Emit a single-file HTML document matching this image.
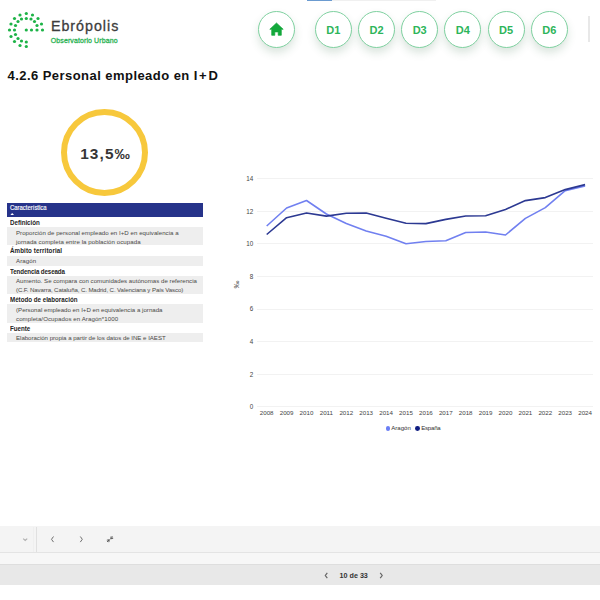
<!DOCTYPE html>
<html><head><meta charset="utf-8">
<style>
*{margin:0;padding:0;box-sizing:border-box}
html,body{width:600px;height:600px;overflow:hidden;background:#fff;font-family:"Liberation Sans",sans-serif;color:#252423}
.abs{position:absolute}
.nav{position:absolute;top:10.5px;width:37px;height:37px;border-radius:50%;border:1.8px solid #7fd1a0;background:#fff;box-shadow:0 5px 8px rgba(40,100,60,0.17);color:#2db55a;font-weight:700;font-size:11px;text-align:center;line-height:36px;letter-spacing:0px}
.t{position:absolute;white-space:nowrap}
.b{font-weight:700;font-size:7px;line-height:9px;transform:scaleX(0.885);transform-origin:0 0;color:#252423;left:10px}
.g{position:absolute;left:7px;width:195.5px;background:#eeeeee}
.gt{position:absolute;left:16px;font-size:6.1px;color:#4a4846;white-space:nowrap;line-height:9px}
.yl{position:absolute;font-size:6.3px;color:#444;text-align:right;width:12px;left:241.3px;margin-top:0.6px}
.xl{position:absolute;font-size:6.2px;color:#444;top:409.2px;width:20px;text-align:center}
.grid{position:absolute;left:256.6px;width:336.4px;height:1px;background:#f2f2f2}
</style></head>
<body>
<!-- logo -->
<svg class="abs" style="left:0;top:0" width="50" height="55" viewBox="0 0 50 55">
<g fill="#1db347">
<circle cx="26.3" cy="13.5" r="1.6"/>
<circle cx="20" cy="15" r="1.6"/><circle cx="32.5" cy="15" r="1.6"/>
<circle cx="14.5" cy="18.5" r="1.6"/><circle cx="38" cy="18.5" r="1.6"/>
<circle cx="11" cy="24" r="1.6"/><circle cx="41.5" cy="24" r="1.6"/>
<circle cx="9.5" cy="30" r="1.6"/>
<circle cx="11" cy="36.5" r="1.6"/>
<circle cx="14.5" cy="41.5" r="1.6"/>
<circle cx="20" cy="45.5" r="1.6"/>
<circle cx="26.3" cy="46.5" r="1.6"/>
<circle cx="26.3" cy="18.5" r="1.6"/>
<circle cx="21.5" cy="19" r="1.6"/><circle cx="31" cy="19" r="1.6"/>
<circle cx="18" cy="21.5" r="1.6"/><circle cx="34.5" cy="21.5" r="1.6"/>
<circle cx="15.5" cy="25.5" r="1.6"/><circle cx="37" cy="25.5" r="1.6"/>
<circle cx="14.5" cy="30" r="1.6"/>
<circle cx="15.5" cy="34.5" r="1.6"/>
<circle cx="18" cy="38.5" r="1.6"/>
<circle cx="21.5" cy="41" r="1.6"/>
<circle cx="26.3" cy="42" r="1.6"/>
<circle cx="26.3" cy="30" r="1.6"/><circle cx="31.5" cy="30" r="1.6"/><circle cx="37" cy="30" r="1.6"/><circle cx="42.5" cy="30" r="1.6"/>
</g></svg>
<div class="t" style="left:50.9px;top:17.8px;font-size:14.3px;color:#3d3d3d;letter-spacing:0.98px;-webkit-text-stroke:0.3px #3d3d3d">Ebrópolis</div>
<div class="t" style="left:50.8px;top:36.9px;font-size:7px;color:#2eb456;letter-spacing:0.1px;-webkit-text-stroke:0.3px #2eb456">Observatorio Urbano</div>

<!-- top strip -->
<div class="abs" style="left:306.5px;top:0;width:25.5px;height:1px;background:#6b9bd0"></div>
<div class="abs" style="left:332px;top:0;width:104px;height:1px;background:#f0f0f0"></div>

<!-- nav buttons -->
<div class="nav" style="left:258px">
<svg width="15" height="14" viewBox="0 0 15 14" style="position:absolute;left:10.2px;top:10.3px"><path d="M7.5 1.0 L14.2 7.3 L12.3 7.3 L12.3 13.3 L9.2 13.3 L9.2 9.9 L5.8 9.9 L5.8 13.3 L2.7 13.3 L2.7 7.3 L0.8 7.3 Z" fill="#13a83b" stroke="#13a83b" stroke-width="0.7" stroke-linejoin="round"/></svg>
</div>
<div class="nav" style="left:314.8px">D1</div>
<div class="nav" style="left:358px">D2</div>
<div class="nav" style="left:401.2px">D3</div>
<div class="nav" style="left:444.4px">D4</div>
<div class="nav" style="left:487.6px">D5</div>
<div class="nav" style="left:530.8px">D6</div>
<div class="abs" style="left:588px;top:16px;width:1.7px;height:26px;background:#e8e8e8"></div>

<!-- title -->
<div class="t" style="left:7.5px;top:67.9px;font-size:13px;font-weight:700;color:#111;letter-spacing:0.45px">4.2.6 Personal empleado en <span style="letter-spacing:1.7px">I+</span>D</div>

<!-- KPI -->
<div class="abs" style="left:61px;top:108.5px;width:87px;height:87px;border-radius:50%;border:6px solid #f7c83c"></div>
<div class="t" style="left:80.2px;top:144.9px;font-size:15.4px;font-weight:700;color:#363636;letter-spacing:1.1px">13,5‰</div>

<!-- table -->
<div class="abs" style="left:7px;top:203px;width:195.5px;height:14px;background:#26338a"></div>
<div class="t" style="left:10px;top:204.3px;font-size:6.6px;color:#fff;transform:scaleX(0.9);transform-origin:0 0;-webkit-text-stroke:0.15px #fff">Característica</div>
<svg class="abs" style="left:10.3px;top:212.6px" width="4.4" height="2.4"><path d="M0 2.4 L2.2 0 L4.4 2.4 Z" fill="#fff"/></svg>

<div class="t b" style="top:217.5px;letter-spacing:-0.02px">Definición</div>
<div class="g" style="top:227px;height:18.3px"></div>
<div class="gt" style="top:228.1px;letter-spacing:0.04px">Proporción de personal empleado en I+D en equivalencia a</div>
<div class="gt" style="top:236.7px;letter-spacing:0.07px">jornada completa entre la población ocupada</div>
<div class="t b" style="top:246.2px;letter-spacing:0.12px">Ámbito territorial</div>
<div class="g" style="top:256px;height:9.6px"></div>
<div class="gt" style="top:256.4px;letter-spacing:0.1px">Aragón</div>
<div class="t b" style="top:267.2px;letter-spacing:-0.12px">Tendencia deseada</div>
<div class="g" style="top:276px;height:18.3px"></div>
<div class="gt" style="top:276.3px;letter-spacing:0.03px">Aumento. Se compara con comunidades autónomas de referencia</div>
<div class="gt" style="top:285.3px;letter-spacing:-0.1px">(C.F. Navarra, Cataluña, C. Madrid, C. Valenciana y País Vasco)</div>
<div class="t b" style="top:294.5px;letter-spacing:0px">Método de elaboración</div>
<div class="g" style="top:304.2px;height:18.8px"></div>
<div class="gt" style="top:304.8px;letter-spacing:0.02px">(Personal empleado en I+D en equivalencia a jornada</div>
<div class="gt" style="top:314.1px;letter-spacing:0.08px">completa/Ocupados en Aragón*1000</div>
<div class="t b" style="top:324.4px">Fuente</div>
<div class="g" style="top:333.2px;height:8.8px"></div>
<div class="gt" style="top:332.5px;letter-spacing:-0.02px">Elaboración propia a partir de los datos de INE e IAEST</div>

<!-- chart -->
<div class="grid" style="top:178px"></div>
<div class="grid" style="top:211px"></div>
<div class="grid" style="top:243px"></div>
<div class="grid" style="top:276px"></div>
<div class="grid" style="top:309px"></div>
<div class="grid" style="top:341px"></div>
<div class="grid" style="top:374px"></div>
<div class="grid" style="top:406px"></div>
<div class="yl" style="top:174px">14</div>
<div class="yl" style="top:207px">12</div>
<div class="yl" style="top:239.5px">10</div>
<div class="yl" style="top:272px">8</div>
<div class="yl" style="top:304.5px">6</div>
<div class="yl" style="top:337.5px">4</div>
<div class="yl" style="top:370px">2</div>
<div class="yl" style="top:402.5px">0</div>
<div class="t" style="left:232px;top:279.7px;font-size:8px;color:#555;transform:rotate(-90deg)">‰</div>

<svg class="abs" style="left:0;top:0" width="600" height="600">
<polyline fill="none" stroke="#7180f0" stroke-width="1.6" stroke-linejoin="round" points="266.7,226 286.6,208 306.5,200.5 326.4,214 346.3,223.5 366.2,231 386.1,236.2 406,243.7 425.9,241.5 445.8,240.7 465.7,232.5 485.6,232 505.5,235 525.4,218.4 545.3,207.6 565.2,190.6 585.1,186"/>
<polyline fill="none" stroke="#2c3992" stroke-width="1.6" stroke-linejoin="round" points="266.7,234.5 286.6,217.7 306.5,213 326.4,216.1 346.3,213.3 366.2,213 386.1,218.2 406,223.3 425.9,223.6 445.8,219.4 465.7,216 485.6,215.7 505.5,209.4 525.4,200.6 545.3,197.6 565.2,189.6 585.1,184.6"/>
</svg>

<div id="xl"></div>
<div class="xl" style="left:256.7px">2008</div>
<div class="xl" style="left:276.6px">2009</div>
<div class="xl" style="left:296.5px">2010</div>
<div class="xl" style="left:316.4px">2011</div>
<div class="xl" style="left:336.3px">2012</div>
<div class="xl" style="left:356.2px">2013</div>
<div class="xl" style="left:376.1px">2014</div>
<div class="xl" style="left:396px">2015</div>
<div class="xl" style="left:415.9px">2016</div>
<div class="xl" style="left:435.8px">2017</div>
<div class="xl" style="left:455.7px">2018</div>
<div class="xl" style="left:475.6px">2019</div>
<div class="xl" style="left:495.5px">2020</div>
<div class="xl" style="left:515.4px">2021</div>
<div class="xl" style="left:535.3px">2022</div>
<div class="xl" style="left:555.2px">2023</div>
<div class="xl" style="left:575.1px">2024</div>

<!-- legend -->
<div class="abs" style="left:385.6px;top:426.1px;width:4.8px;height:4.8px;border-radius:50%;background:#6b7ff5"></div>
<div class="t" style="left:391.3px;top:424.8px;font-size:6.05px;color:#333">Aragón</div>
<div class="abs" style="left:415.4px;top:426.1px;width:4.8px;height:4.8px;border-radius:50%;background:#0f1d82"></div>
<div class="t" style="left:421.2px;top:424.8px;font-size:6.05px;color:#333;letter-spacing:-0.2px">España</div>

<!-- bottom toolbar -->
<div class="abs" style="left:0;top:526px;width:600px;height:27px;background:#f4f4f4;border-bottom:1px solid #e4e4e4"></div>
<div class="abs" style="left:36px;top:527px;width:1px;height:25px;background:#e0e0e0"></div>
<div class="abs" style="left:33px;top:527px;width:1px;height:25px;background:#efefef"></div>
<div class="abs" style="left:0;top:553px;width:600px;height:12px;background:#f7f7f7;border-bottom:1px solid #dedede"></div>
<div class="abs" style="left:0;top:565px;width:600px;height:20px;background:#e8e8e8"></div>
<svg class="abs" style="left:0;top:526px" width="600" height="60">
<path d="M23.2 12.6 L25.2 14.4 L27.2 12.6" fill="none" stroke="#b0b0b0" stroke-width="1.2"/>
<path d="M53.5 10.5 L51.5 13.3 L53.5 16.1" fill="none" stroke="#707070" stroke-width="1"/>
<path d="M80.3 10.5 L82.3 13.3 L80.3 16.1" fill="none" stroke="#707070" stroke-width="1"/>
<path d="M107 16 L109.3 13.7 M108.8 16.2 L109.3 13.7 L106.8 14.2 M113 10.5 L110.7 12.8 M111.2 10.3 L110.7 12.8 L113.2 12.3" fill="none" stroke="#555" stroke-width="0.9"/>
<path d="M327.3 46.8 L325.3 49.5 L327.3 52.2" fill="none" stroke="#666" stroke-width="1.2"/>
<path d="M380.2 46.8 L382.2 49.5 L380.2 52.2" fill="none" stroke="#666" stroke-width="1.2"/>
</svg>
<div class="t" style="left:339.5px;top:571px;font-size:7.2px;font-weight:700;color:#333">10 de 33</div>

</body></html>
